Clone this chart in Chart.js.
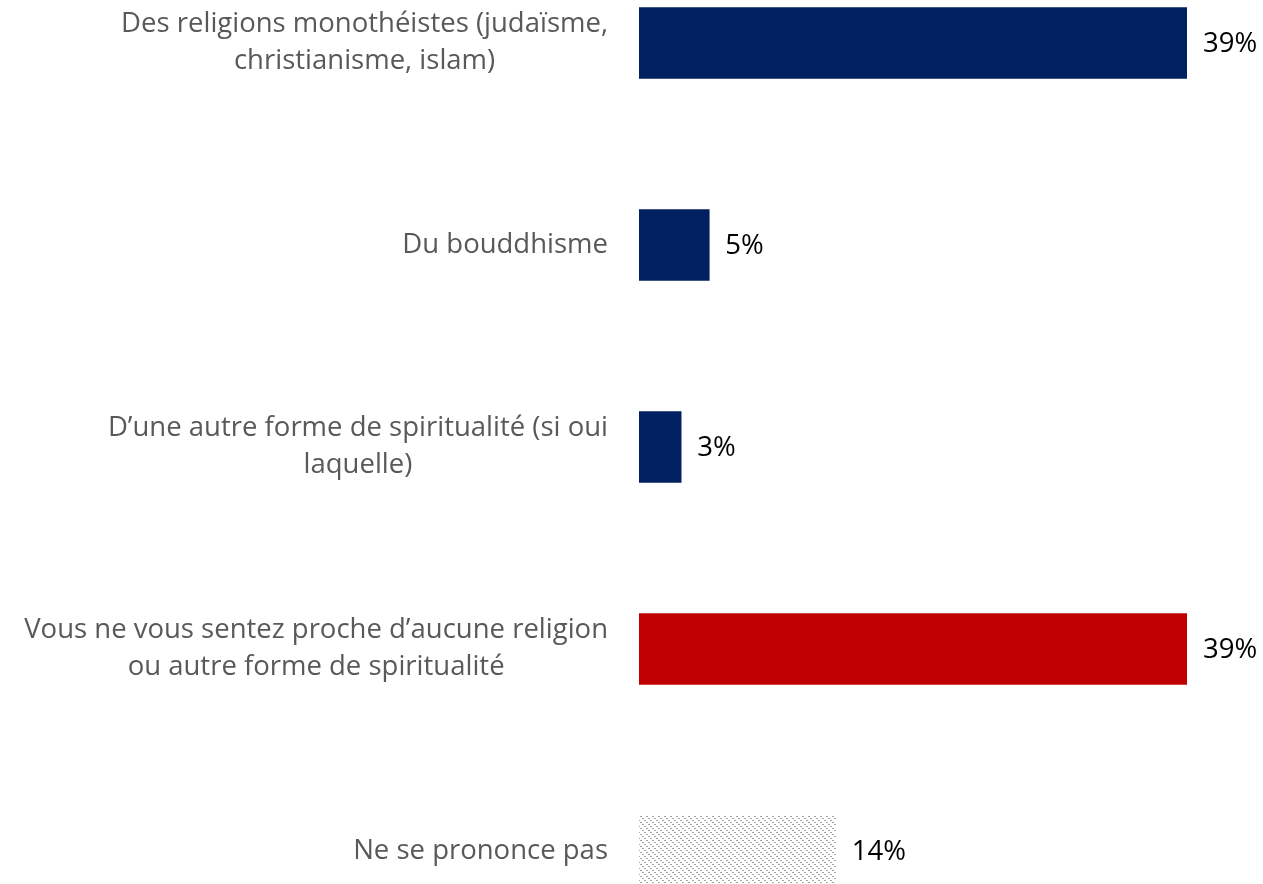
<!DOCTYPE html>
<html>
<head>
<meta charset="utf-8">
<script src="https://cdn.jsdelivr.net/npm/chart.js@4.4.1/dist/chart.umd.min.js"></script>
<style>
  html, body { margin: 0; padding: 0; background: #fff; overflow: hidden; width: 1263px; height: 884px; }
  #wrap { position: absolute; left: 0; top: -58px; width: 1263px; height: 1010px; }
</style>
</head>
<body>
<div id="wrap"><canvas id="chart"></canvas></div>
<script>
const categories = [
  ["Des religions monothéistes (judaïsme,", "christianisme, islam)"],
  ["Du bouddhisme"],
  ["D\u2019une autre forme de spiritualité (si oui", "laquelle)"],
  ["Vous ne vous sentez proche d\u2019aucune religion", "ou autre forme de spiritualité"],
  ["Ne se prononce pas"]
];
const values = [39, 5, 3, 39, 14];
const valueLabels = ["39%", "5%", "3%", "39%", "14%"];

const NAVY = "#002060";
const RED = "#C00000";

// dotted downward-diagonal hatch for "Ne se prononce pas"
function makeHatch() {
  const c = document.createElement("canvas");
  c.width = 6; c.height = 6;
  const g = c.getContext("2d");
  g.fillStyle = "#ffffff";
  g.fillRect(0, 0, 6, 6);
  g.fillStyle = "#a6a6a6";
  g.fillRect(0, 0, 2, 1);
  g.fillRect(2, 2, 2, 1);
  g.fillRect(4, 4, 2, 1);
  return g.createPattern(c, "repeat");
}

const labelFont = "27.5px 'Open Sans', sans-serif";

const labelsPlugin = {
  id: "sideLabels",
  afterDatasetsDraw(chart) {
    const ctx = chart.ctx;
    const meta = chart.getDatasetMeta(0);
    ctx.save();
    ctx.font = labelFont;
    ctx.textBaseline = "middle";
    const lineH = 37;
    const rightEdge = chart.chartArea.left - 31;
    meta.data.forEach((bar, i) => {
      // category label: block right-aligned, lines centred inside it
      const lines = categories[i];
      const maxW = Math.max(...lines.map(l => ctx.measureText(l).width));
      const cx = rightEdge - maxW / 2;
      const y0 = bar.y - (lines.length - 1) * lineH / 2;
      ctx.fillStyle = "#595959";
      ctx.textAlign = "center";
      lines.forEach((l, k) => ctx.fillText(l, cx, y0 + k * lineH));
      // value label
      ctx.fillStyle = "#000000";
      ctx.textAlign = "left";
      ctx.fillText(valueLabels[i], bar.x + 16, bar.y + 1);
    });
    ctx.restore();
  }
};

new Chart(document.getElementById("chart").getContext("2d"), {
  type: "bar",
  data: {
    labels: categories,
    datasets: [{
      data: values,
      backgroundColor: [NAVY, NAVY, NAVY, RED, makeHatch()],
      borderWidth: 0,
      barThickness: 71
    }]
  },
  options: {
    indexAxis: "y",
    responsive: true,
    maintainAspectRatio: false,
    animation: false,
    layout: { padding: { left: 639, right: 76, top: 0, bottom: 0 } },
    plugins: {
      legend: { display: false },
      tooltip: { enabled: false }
    },
    scales: {
      x: { display: false, min: 0, max: 39 },
      y: { display: false }
    }
  },
  plugins: [labelsPlugin]
});
</script>
</body>
</html>
